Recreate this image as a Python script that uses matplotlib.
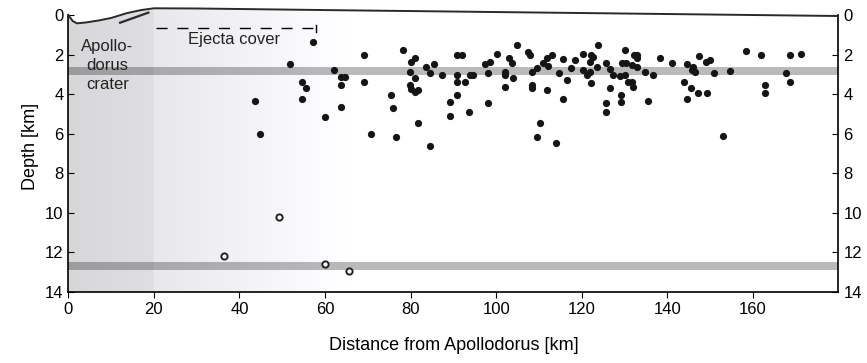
import numpy as np
import matplotlib.pyplot as plt
from matplotlib.patches import Polygon

plt.rcParams['font.family'] = ['Liberation Sans', 'DejaVu Sans']

# hypocentres (distance km, depth km)
dist = [57.3, 51.8, 62.0, 63.7, 64.6, 54.6, 55.6, 63.7, 54.6, 43.7, 63.7, 59.9, 44.7,
        69.1, 69.1, 70.8, 75.4, 75.8, 76.5, 78.2, 80.0, 81.1, 79.9, 81.1, 79.9, 80.0,
        81.0, 81.8, 83.6, 85.5, 84.6, 87.3, 81.8, 84.6, 90.9, 92.0, 90.9, 90.9, 92.7,
        93.8, 94.5, 90.9, 89.1, 89.1, 93.7, 97.4, 98.6, 100.1, 98.2, 98.2, 104.8,
        102.1, 102.1, 102.9, 103.7, 104.0, 102.1, 107.5, 107.8, 108.3, 109.5, 108.3,
        108.3, 110.3, 109.5, 112.0, 113.9, 111.0, 112.2, 113.0, 111.8, 114.8, 115.7,
        115.7, 116.5, 117.4, 118.5, 120.3, 120.4, 121.2, 122.1, 122.7, 122.0, 122.1,
        123.7, 123.5, 122.0, 125.7, 126.5, 127.4, 126.6, 125.7, 125.7, 129.2, 129.2,
        130.1, 129.4, 130.3, 129.0, 130.1, 130.9, 131.7, 131.9, 132.3, 133.0, 132.9,
        131.7, 132.9, 134.8, 136.6, 135.6, 138.3, 141.1, 143.8, 144.6, 144.7, 145.7,
        146.1, 146.5, 147.5, 149.1, 150.0, 145.5, 147.3, 149.2, 151.0, 153.0, 154.7,
        158.4, 161.9, 162.9, 162.9, 167.7, 168.6, 168.6, 171.3]
depth = [1.38, 2.50, 2.80, 3.14, 3.14, 3.37, 3.71, 3.54, 4.22, 4.35, 4.64, 5.13, 5.99,
         2.02, 3.37, 6.00, 4.05, 4.72, 6.19, 1.77, 2.36, 2.19, 2.87, 3.20, 3.54, 3.75,
         3.90, 3.80, 2.62, 2.50, 2.95, 3.05, 5.45, 6.63, 2.02, 2.02, 3.04, 3.37, 3.37,
         3.04, 3.04, 4.05, 4.39, 5.10, 4.89, 2.48, 2.36, 1.99, 2.95, 4.47, 1.52,
         2.87, 3.04, 2.19, 2.44, 3.20, 3.63, 1.86, 2.02, 2.87, 2.70, 3.54,
         3.71, 5.45, 6.19, 3.80, 6.46, 2.44, 2.58, 2.02, 2.19, 2.92, 2.23,
         4.22, 3.29, 2.67, 2.28, 1.97, 2.78, 3.04, 2.02, 2.11, 2.36, 3.46,
         1.52, 2.62, 2.87, 2.41, 2.75, 3.04, 3.71, 4.47, 4.89, 4.05, 4.39,
         1.77, 2.44, 2.41, 3.09, 3.04, 3.37, 3.37, 3.63, 2.02, 2.02, 2.19,
         2.53, 2.62, 2.87, 3.04, 4.34, 2.19, 2.41, 3.37, 4.22, 2.50, 2.78,
         2.62, 2.87, 2.06, 2.36, 2.28, 3.71, 3.93, 3.93, 2.92, 6.12, 2.82,
         1.82, 2.02, 3.54, 3.96, 2.92, 2.02, 3.37, 1.97]

# deep events (open circles)
deep_dist = [36.5, 49.2, 60.0, 65.5]
deep_depth = [12.2, 10.2, 12.6, 12.95]

# surface profile
surf_x = [0, 1, 2, 4, 7, 10, 13.6, 17, 20, 30, 60, 100, 140, 180]
surf_d = [0.0, 0.3, 0.42, 0.38, 0.28, 0.15, -0.09, -0.25, -0.34, -0.33, -0.25, -0.15, -0.05, 0.05]
rim_x = [12.1, 18.7]
rim_d = [0.39, -0.12]

# low-velocity layers
bands = [(2.62, 3.04), (12.5, 12.9)]

fig = plt.figure(figsize=(8.67, 3.63), dpi=100)
ax = fig.add_axes([0.0788, 0.1956, 0.8882, 0.8012])
ax.set_xlim(0, 180)
ax.set_ylim(14, -0.7)

# gray shading fading out away from the crater
xs = np.linspace(0, 180, 721)
g = np.where(xs < 20, 215 + xs / 20 * 8,
             np.where(xs < 65, 232 + (xs - 20) / 45 * 23, 255)) / 255.0
img = np.dstack([g, g, np.minimum(g + 3 / 255, 1)])[0][None, :, :]
im = ax.imshow(img, extent=[0, 180, 14, -0.7], aspect='auto', zorder=0)
clip = Polygon(list(zip(surf_x, surf_d)) + [(180, 14), (0, 14)], closed=True,
               transform=ax.transData, facecolor='none', edgecolor='none')
ax.add_patch(clip)
im.set_clip_path(clip)

for lo, hi in bands:
    ax.axhspan(lo, hi, color='black', alpha=0.27, lw=0, zorder=1)

ax.plot(surf_x, surf_d, color='#2a2a2a', lw=1.4, zorder=3)
ax.plot(rim_x, rim_d, color='#2a2a2a', lw=1.6, zorder=3)

ax.plot(dist, depth, 'o', color='#151515', ms=5.2, mec='none', zorder=4)
ax.plot(deep_dist, deep_depth, 'o', mfc='white', mec='#222222', mew=1.4, ms=4.5, zorder=4)

# ejecta cover marker
ax.plot([20.5, 58], [0.66, 0.66], color='black', lw=1, linestyle=(0, (8, 7)), zorder=3)
ax.plot([58, 58], [0.48, 0.85], color='black', lw=1, zorder=3)
ax.text(38.8, 1.26, 'Ejecta cover', fontsize=12, ha='center', va='center', color='#222222')
ax.text(9.1, 2.55, 'Apollo-\ndorus\ncrater', fontsize=12, ha='center', va='center',
        linespacing=1.35, color='#222222')

ax.set_xticks(np.arange(0, 161, 20))
ax.set_yticks(np.arange(0, 15, 2))
ax.tick_params(axis='x', direction='out', length=4, labelsize=12)
ax.tick_params(axis='y', direction='in', length=4, labelsize=12, right=True, labelright=True)
ax.spines['top'].set_visible(False)
ax.spines['left'].set_bounds(0, 14)
ax.spines['right'].set_bounds(0, 14)
for s in ['left', 'right', 'bottom']:
    ax.spines[s].set_linewidth(1.2)

ax.set_xlabel('Distance from Apollodorus [km]', fontsize=13, labelpad=14)
ax.set_ylabel('Depth [km]', fontsize=13, labelpad=4)

fig.savefig('out.png', dpi=100)
